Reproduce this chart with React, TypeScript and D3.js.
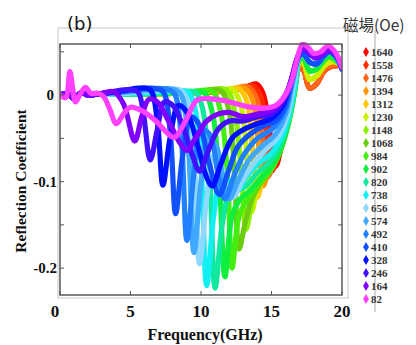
import React from "react";
import * as d3 from "d3";

// field values (Oe), legend order
const fields = [1640, 1558, 1476, 1394, 1312, 1230, 1148, 1068, 984, 902, 820, 738, 656, 574, 492, 410, 328, 246, 164, 82];
const colors = [
  "#ff0000", "#ff2a00", "#ff661a", "#ff9600", "#ffc800", "#c8f000", "#8cf000", "#6acd10", "#44ee10", "#10ee40",
  "#10e8a0", "#10f0f0", "#90d8ff", "#40a8ff", "#2080ff", "#1050ff", "#0010ff", "#4010ff", "#8000ff", "#ff40ff",
];

// shared pieces: [GHz, reflection]
const lowStart = [[0, 0], [0.5, 0.002], [1.0, -0.004], [1.5, 0.003], [2.0, 0], [2.6, 0.001]];
const endRed = [[17.0, 0.033], [17.3, 0.028], [17.7, 0.008], [18.2, 0.013], [18.7, 0.027], [19.1, 0.032], [19.6, 0.034], [20, 0.035]];
const endYellow = [[17.0, 0.038], [17.3, 0.036], [17.7, 0.018], [18.2, 0.022], [18.7, 0.033], [19.1, 0.038], [19.6, 0.038], [20, 0.034]];
const endGreen = [[17.0, 0.042], [17.3, 0.042], [17.7, 0.028], [18.2, 0.03], [18.7, 0.04], [19.1, 0.044], [19.6, 0.04], [20, 0.032]];
const endBlue = [[17.0, 0.046], [17.3, 0.047], [17.7, 0.038], [18.2, 0.036], [18.7, 0.045], [19.1, 0.05], [19.6, 0.044], [20, 0.03]];
const endViolet = [[17.2, 0.054], [17.6, 0.05], [18.1, 0.043], [18.6, 0.047], [19.1, 0.052], [19.6, 0.046], [20, 0.031]];

const s1640 = [...lowStart, [5, 0.001], [8, 0.002], [10, 0.003], [12, 0.005], [13.2, 0.009], [13.9, 0.013], [14.4, 0.002], [14.9, -0.045], [15.3, -0.082], [15.7, -0.06], [16.2, -0.025], [16.7, 0.015], ...endRed];
const s1558 = [...lowStart, [5, 0.001], [8, 0.002], [10, 0.003], [12, 0.005], [13.0, 0.008], [13.6, 0.011], [14.2, 0.0], [14.7, -0.05], [15.0, -0.088], [15.4, -0.075], [15.8, -0.055], [16.3, -0.02], [16.7, 0.015], ...endRed];
const s1476 = [...lowStart, [5, 0.001], [8, 0.002], [10, 0.003], [12, 0.005], [13.3, 0.01], [13.9, -0.002], [14.4, -0.055], [14.7, -0.095], [15.1, -0.082], [15.6, -0.065], [16.1, -0.035], [16.6, 0.005], ...endRed];
const s1394 = [...lowStart, [5, 0.001], [8, 0.002], [10, 0.004], [12, 0.006], [13.0, 0.009], [13.6, -0.003], [14.1, -0.06], [14.4, -0.105], [14.8, -0.088], [15.3, -0.075], [15.8, -0.055], [16.3, -0.022], [16.7, 0.01], ...endYellow];
const s1312 = [...lowStart, [5, 0.001], [8, 0.002], [10, 0.004], [12, 0.006], [12.6, 0.008], [13.2, -0.005], [13.7, -0.07], [14.0, -0.118], [14.4, -0.095], [14.9, -0.08], [15.5, -0.065], [16.1, -0.035], [16.6, 0.0], ...endYellow];
const s1230 = [...lowStart, [5, 0.001], [8, 0.002], [10, 0.004], [11.6, 0.006], [12.2, 0.007], [12.8, -0.01], [13.3, -0.08], [13.6, -0.135], [14.0, -0.105], [14.5, -0.085], [15.2, -0.07], [15.9, -0.045], [16.4, -0.01], ...endYellow];
const s1148 = [...lowStart, [5, 0.001], [8, 0.002], [10, 0.004], [11.8, 0.006], [12.4, -0.02], [12.9, -0.1], [13.2, -0.155], [13.6, -0.125], [14.1, -0.1], [14.8, -0.085], [15.5, -0.065], [16.1, -0.035], [16.6, 0.0], ...endGreen];
const s1068 = [...lowStart, [5, 0.001], [8, 0.002], [9.5, 0.003], [11.4, 0.005], [12.0, -0.02], [12.4, -0.1], [12.7, -0.178], [13.1, -0.15], [13.6, -0.12], [14.3, -0.1], [15.0, -0.085], [15.7, -0.06], [16.2, -0.03], [16.6, 0.0], ...endGreen];
const s984 = [...lowStart, [5, 0.001], [7, 0.002], [9, 0.003], [10.8, 0.004], [11.4, -0.02], [11.9, -0.1], [12.2, -0.2], [12.7, -0.14], [13.3, -0.12], [14.0, -0.105], [14.8, -0.09], [15.5, -0.07], [16.1, -0.04], [16.5, -0.01], ...endGreen];
const s902 = [...lowStart, [5, 0.001], [7, 0.002], [8.5, 0.003], [10.2, 0.003], [10.8, -0.02], [11.3, -0.1], [11.7, -0.21], [12.2, -0.14], [12.8, -0.12], [13.5, -0.11], [14.3, -0.095], [15.1, -0.08], [15.8, -0.055], [16.3, -0.025], [16.7, 0.01], ...endGreen];
const s820 = [...lowStart, [5, 0.001], [6.5, 0.002], [8, 0.003], [9.6, 0.003], [10.1, -0.015], [10.6, -0.09], [11.0, -0.223], [11.5, -0.15], [12.0, -0.115], [12.6, -0.11], [13.2, -0.105], [14.0, -0.09], [15.0, -0.075], [15.8, -0.05], [16.3, -0.022], [16.7, 0.012], ...endBlue];
const s738 = [...lowStart, [5, 0.002], [6.5, 0.003], [7.5, 0.004], [9.0, 0.004], [9.5, -0.01], [10.0, -0.08], [10.4, -0.22], [10.9, -0.14], [11.4, -0.1], [12.0, -0.1], [12.6, -0.11], [13.2, -0.095], [14.0, -0.08], [15.0, -0.067], [15.8, -0.045], [16.3, -0.02], [16.7, 0.015], ...endBlue];
const s656 = [...lowStart, [4.5, 0.002], [6, 0.004], [7, 0.005], [8.5, 0.006], [9.0, -0.005], [9.5, -0.07], [9.9, -0.195], [10.4, -0.12], [10.9, -0.07], [11.4, -0.08], [11.9, -0.11], [12.3, -0.118], [12.9, -0.1], [13.7, -0.08], [14.6, -0.063], [15.4, -0.05], [16.1, -0.025], [16.6, 0.015], ...endBlue];
const s574 = [...lowStart, [4.5, 0.003], [6.5, 0.006], [8.0, 0.007], [8.6, 0.0], [9.1, -0.06], [9.5, -0.182], [10.0, -0.1], [10.5, -0.05], [11.1, -0.06], [11.6, -0.1], [12.0, -0.12], [12.6, -0.1], [13.4, -0.075], [14.4, -0.058], [15.2, -0.047], [16.0, -0.022], [16.5, 0.015], ...endBlue];
const s492 = [...lowStart, [4.5, 0.004], [6.0, 0.007], [7.5, 0.007], [8.1, 0.002], [8.6, -0.05], [9.0, -0.168], [9.5, -0.09], [10.0, -0.04], [10.6, -0.045], [11.2, -0.09], [11.7, -0.12], [12.3, -0.095], [13.0, -0.07], [14.0, -0.05], [15.0, -0.04], [15.9, -0.02], [16.5, 0.018], ...endBlue];
const s410 = [...lowStart, [4.0, 0.004], [5.0, 0.006], [6.5, 0.008], [7.3, 0.004], [7.8, -0.04], [8.2, -0.137], [8.7, -0.07], [9.3, -0.025], [9.9, -0.035], [10.6, -0.08], [11.3, -0.115], [11.9, -0.09], [12.6, -0.06], [13.5, -0.045], [14.5, -0.035], [15.3, -0.03], [15.9, -0.015], [16.4, 0.015], ...endBlue];
const s328 = [...lowStart, [3.6, 0.003], [4.5, 0.005], [5.5, 0.008], [6.4, 0.006], [6.9, -0.03], [7.3, -0.104], [7.8, -0.05], [8.4, -0.012], [9.0, -0.02], [9.8, -0.06], [10.4, -0.095], [10.8, -0.105], [11.4, -0.08], [12.2, -0.05], [13.0, -0.04], [14.0, -0.033], [15.0, -0.027], [15.8, -0.012], [16.4, 0.018], ...endViolet];
const s246 = [...lowStart, [3.5, 0.003], [4.5, 0.006], [5.5, 0.004], [5.9, -0.02], [6.4, -0.075], [6.9, -0.04], [7.4, -0.008], [8.0, -0.012], [8.8, -0.04], [9.4, -0.07], [9.9, -0.088], [10.5, -0.065], [11.2, -0.04], [12.0, -0.03], [13.0, -0.03], [14.0, -0.025], [15.0, -0.022], [15.8, -0.008], [16.3, 0.01], [16.8, 0.04], ...endViolet];
const s164 = [...lowStart, [3.0, 0.002], [3.8, 0.004], [4.5, -0.01], [5.3, -0.053], [5.8, -0.025], [6.3, -0.005], [6.9, -0.008], [7.7, -0.03], [8.5, -0.055], [9.0, -0.064], [9.6, -0.05], [10.4, -0.03], [11.2, -0.022], [12.0, -0.02], [13.0, -0.025], [14.0, -0.022], [15.0, -0.018], [15.8, -0.005], [16.3, 0.012], [16.8, 0.042], ...endViolet];
const s82 = [
  [0, 0], [0.4, -0.003], [0.7, 0.027], [0.9, 0.008], [1.1, -0.008], [1.4, 0.0], [1.8, 0.009], [2.2, 0.002], [2.7, 0.002], [3.1, -0.002],
  [3.5, -0.015], [4.0, -0.033], [4.5, -0.022], [5.0, -0.014], [5.8, -0.018], [6.8, -0.03], [7.5, -0.042], [8.1, -0.049], [8.9, -0.03],
  [9.7, -0.006], [10.5, -0.004], [11.5, -0.006], [12.5, -0.01], [13.5, -0.014], [14.5, -0.015], [15.3, -0.012], [15.9, -0.002],
  [16.4, 0.015], [16.8, 0.04], [17.2, 0.059], [17.6, 0.055], [18.0, 0.048], [18.5, 0.05], [19.0, 0.057], [19.5, 0.05], [20, 0.032],
];

const series = [s1640, s1558, s1476, s1394, s1312, s1230, s1148, s1068, s984, s902, s820, s738, s656, s574, s492, s410, s328, s246, s164, s82];

const xTicks = [0, 5, 10, 15, 20];
const yTicks = [0.05, 0, -0.05, -0.1, -0.15, -0.2];
const yLabels = [0, -0.1, -0.2];

export default function App() {
  const W = 416;
  const H = 345;
  const m = { left: 60, right: 342, top: 44, bottom: 295 };

  const x = d3.scaleLinear().domain([0, 20]).range([m.left, m.right]);
  const y = d3.scaleLinear().domain([-0.231, 0.059]).range([m.bottom, m.top]);

  const line = d3
    .line<number[]>()
    .x((d) => x(d[0]))
    .y((d) => y(d[1]))
    .curve(d3.curveCatmullRom.alpha(0.5));

  const diamond = d3.symbol().type(d3.symbolDiamond).size(30)();
  const serif = "'Liberation Serif', 'Times New Roman', serif";

  return (
    <svg width={W} height={H} style={{ position: "absolute", left: 0, top: 0, background: "#fff" }}>
      {/* outer light frame */}
      <rect x={58} y={28} width={290} height={270} fill="none" stroke="#c8c8c8" strokeWidth={1} />
      <line x1={375} x2={375} y1={30} y2={312} stroke="#aaa" strokeWidth={1} />

      <defs>
        <clipPath id="plot">
          <rect x={m.left} y={m.top - 2} width={m.right - m.left} height={m.bottom - m.top + 2} />
        </clipPath>
      </defs>

      <g clipPath="url(#plot)">
        {series.map((s, i) => (
          <path
            key={fields[i]}
            d={line(s) || ""}
            fill="none"
            stroke={colors[i]}
            strokeWidth={5.2}
            strokeLinejoin="round"
            strokeLinecap="round"
          />
        ))}
      </g>

      {/* frame */}
      <rect x={m.left} y={m.top} width={m.right - m.left} height={m.bottom - m.top} fill="none" stroke="#5a5a5a" strokeWidth={1.5} />

      {xTicks.map((t) => (
        <g key={"x" + t}>
          <line x1={x(t)} x2={x(t)} y1={m.bottom} y2={m.bottom - 4} stroke="#555" />
          <line x1={x(t)} x2={x(t)} y1={m.top} y2={m.top + 4} stroke="#555" />
          <text
            x={t === 0 ? x(t) - 5 : x(t)}
            y={317}
            textAnchor="middle"
            fontFamily={serif}
            fontWeight="bold"
            fontSize={17}
            fill="#111"
          >
            {t}
          </text>
        </g>
      ))}

      {yTicks.map((t) => (
        <g key={"y" + t}>
          <line x1={m.left} x2={m.left + 4} y1={y(t)} y2={y(t)} stroke="#555" />
          <line x1={m.right} x2={m.right - 4} y1={y(t)} y2={y(t)} stroke="#555" />
        </g>
      ))}
      {yLabels.map((t) => (
        <text
          key={"yl" + t}
          x={t === 0 ? 54 : 57}
          y={y(t) + 5}
          textAnchor="end"
          fontFamily={serif}
          fontWeight="bold"
          fontSize={15}
          fill="#111"
        >
          {t === 0 ? "0" : d3.format(".1f")(t).replace("−", "-")}
        </text>
      ))}

      <text x={205} y={340} textAnchor="middle" fontFamily={serif} fontWeight="bold" fontSize={16} fill="#111">
        Frequency(GHz)
      </text>
      <text
        transform="translate(26,181) rotate(-90)"
        textAnchor="middle"
        fontFamily={serif}
        fontWeight="bold"
        fontSize={15.5}
        fill="#111"
      >
        Reflection Coefficient
      </text>

      <text x={67} y={30} fontFamily="'DejaVu Sans', sans-serif" fontSize={18} fill="#111">
        (b)
      </text>

      {/* legend */}
      <text x={343} y={31} fontFamily="'Noto Sans CJK TC', 'Noto Sans', sans-serif" fontSize={15.5} fill="#333">
        磁場(Oe)
      </text>
      {fields.map((f, i) => (
        <g key={"lg" + f} transform={`translate(0,${52 + i * 13})`}>
          <path d={diamond || ""} transform="translate(366,0)" fill={colors[i]} />
          <text x={371} y={4} fontFamily={serif} fontWeight="bold" fontSize={11} fill="#333">
            {f}
          </text>
        </g>
      ))}
    </svg>
  );
}
